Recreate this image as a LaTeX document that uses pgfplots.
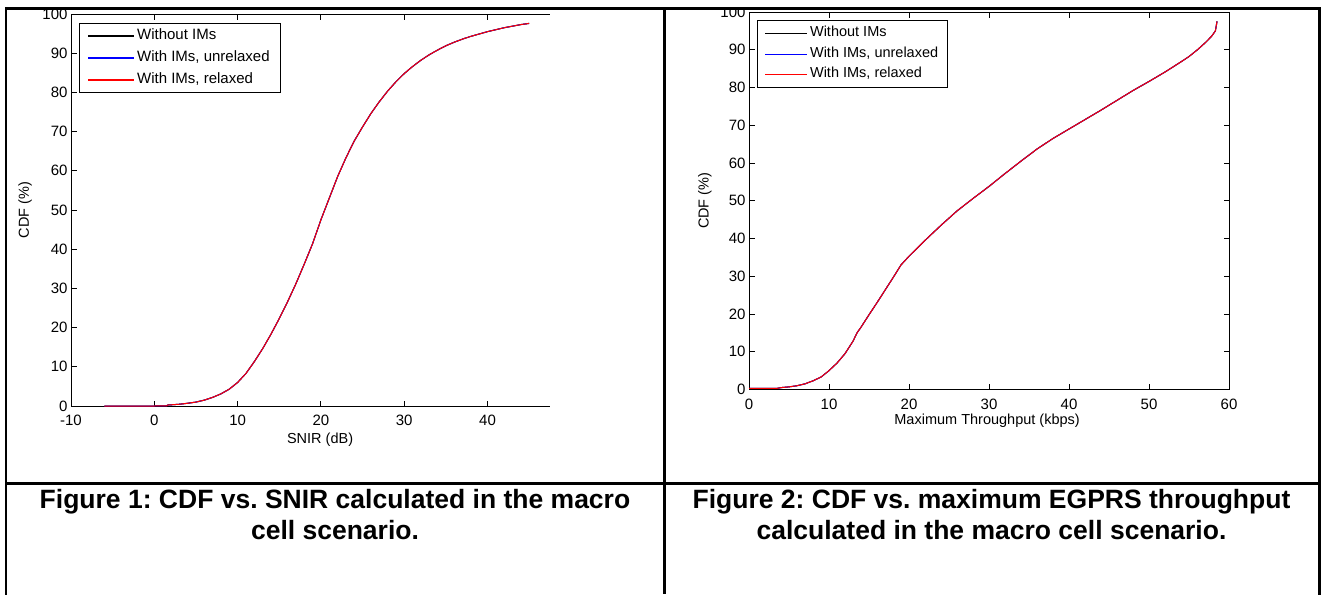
\documentclass[border=0pt]{standalone}
\usepackage{fontspec}
\setmainfont{Liberation Sans}
\usepackage{pgfplots}
\usepackage{pgfplotstable}
\pgfplotsset{compat=1.18}
\frenchspacing

\pgfplotstableread{
x y
-6 0
0 0
1.5 0.05
1.6 0.25
2 0.3
3 0.45
4 0.7
5 1.0
6 1.5
7 2.2
8 3.1
9 4.3
10 6.0
11 8.3
12 11.3
13 14.6
14 18.3
15 22.3
16 26.6
17 31.2
18 36.2
19 41.4
20 47.5
21 53.0
22 58.5
23 63.3
24 67.6
25 71.2
26 74.6
27 77.6
28 80.3
29 82.7
30 84.8
31 86.6
32 88.2
33 89.6
34 90.8
35 91.9
36 92.8
37 93.6
38 94.3
39 94.9
40 95.5
41 96.0
42 96.5
43 96.9
44 97.3
45 97.6
}\snirdata

\pgfplotstableread{
x y
0 0.3
3.5 0.3
4 0.5
5 0.7
6 1.0
7 1.5
8 2.3
9 3.3
10 5.0
11 7.0
12 9.5
13 12.8
13.5 15.0
14 16.5
15 19.8
16 23.0
17 26.3
18 29.6
19 33.0
20 35.3
22 39.5
24 43.5
26 47.3
28 50.6
30 53.8
32 57.2
34 60.5
36 63.7
38 66.5
40 69.0
42 71.5
44 74.0
46 76.6
48 79.2
50 81.6
52 84.1
54 86.8
55 88.2
56 89.9
57 91.8
57.8 93.5
58.3 95.0
58.5 97.5
}\thrdata

\begin{document}
\begin{tikzpicture}
\useasboundingbox (0pt,0pt) rectangle (1321pt,-594pt);
\pgfplotsset{
  mystyle/.style={
    scale only axis,
    axis line style={line width=0.9pt, -},
    every outer x axis line/.append style={-},
    every outer y axis line/.append style={-},
    tick style={line width=0.9pt, black},
    tick align=inside,
    major tick length=5.5pt,
    ymin=0, ymax=100,
    ytick={0,10,...,100},
    tick label style={font=\fontsize{15}{18}\selectfont},
    xticklabel style={yshift=-5.5pt},
    /pgf/number format/assume math mode=true,
    label style={font=\fontsize{14.5}{17}\selectfont},
    legend cell align=left,
    every axis plot/.append style={line width=1pt},
  }
}
% Left plot
\begin{axis}[
  axis x line=box, axis y line=left,
  mystyle,
  at={(71pt,-406pt)}, anchor=south west,
  width=479pt, height=392pt,
  xmin=-10, xmax=47.5,
  xtick={-10,0,...,40},
  xlabel={SNIR (dB)},
  ylabel={CDF (\%)},
  xlabel style={at={(axis description cs:0.52,-0.085)}, anchor=center},
  ylabel style={at={(axis description cs:-0.096,0.5)}, anchor=center},
  legend image code/.code={\draw[#1,line width=1.2pt] (0pt,0pt) -- (46pt,0pt);},
  legend style={at={(0.0167,0.977)}, anchor=north west, draw=black, line width=0.9pt,
    inner xsep=8pt, inner ysep=3pt, row sep=3pt,
    nodes={inner xsep=2.5pt, inner ysep=2pt, text height=11pt, text depth=4pt},
    font=\fontsize{15}{18}\selectfont},
]
\addplot[color=black] table[x=x,y=y] {\snirdata};
\addplot[color=blue] table[x=x,y=y] {\snirdata};
\addplot[color=red] table[x=x,y=y] {\snirdata};
\legend{Without IMs, {With IMs, unrelaxed}, {With IMs, relaxed}}
\end{axis}
% Right plot
\begin{axis}[
  mystyle,
  at={(749pt,-389.5pt)}, anchor=south west,
  width=480pt, height=377.5pt,
  xmin=0, xmax=60,
  xtick={0,10,...,60},
  xlabel={Maximum Throughput (kbps)},
  ylabel={CDF (\%)},
  xlabel style={at={(axis description cs:0.496,-0.083)}, anchor=center},
  ylabel style={at={(axis description cs:-0.0917,0.5)}, anchor=center},
  legend image code/.code={\draw[#1,line width=1.1pt] (0pt,0pt) -- (42pt,0pt);},
  legend style={at={(0.0167,0.979)}, anchor=north west, draw=black, line width=0.9pt,
    inner xsep=7pt, inner ysep=4pt, row sep=2pt,
    nodes={inner xsep=2.5pt, inner ysep=2pt, text height=10.5pt, text depth=4pt},
    font=\fontsize{14.5}{17}\selectfont},
]
\addplot[color=black] table[x=x,y=y] {\thrdata};
\addplot[color=blue] table[x=x,y=y] {\thrdata};
\addplot[color=red] table[x=x,y=y] {\thrdata};
\legend{Without IMs, {With IMs, unrelaxed}, {With IMs, relaxed}}
\end{axis}
% captions
\begin{scope}[every node/.style={font=\fontsize{26.5}{31}\selectfont\bfseries, anchor=base, inner sep=0pt}]
\node at (335pt,-508pt) {Figure 1: CDF vs. SNIR calculated in the macro};
\node at (335pt,-539pt) {cell scenario.};
\node at (991.5pt,-508pt) {Figure 2: CDF vs. maximum EGPRS throughput};
\node at (991.5pt,-539pt) {calculated in the macro cell scenario.};
\end{scope}
% table frame
\fill[white] (0pt,0pt) rectangle (1321pt,-10pt);
\draw[line width=2.6pt, line cap=rect] (6pt,-594pt) -- (6pt,-8.7pt) -- (1319.5pt,-8.7pt) -- (1319.5pt,-594pt);
\draw[line width=2.6pt] (664.5pt,-8.7pt) -- (664.5pt,-594pt);
\draw[line width=2.6pt] (6pt,-483.5pt) -- (1319.5pt,-483.5pt);
\end{tikzpicture}
\end{document}
